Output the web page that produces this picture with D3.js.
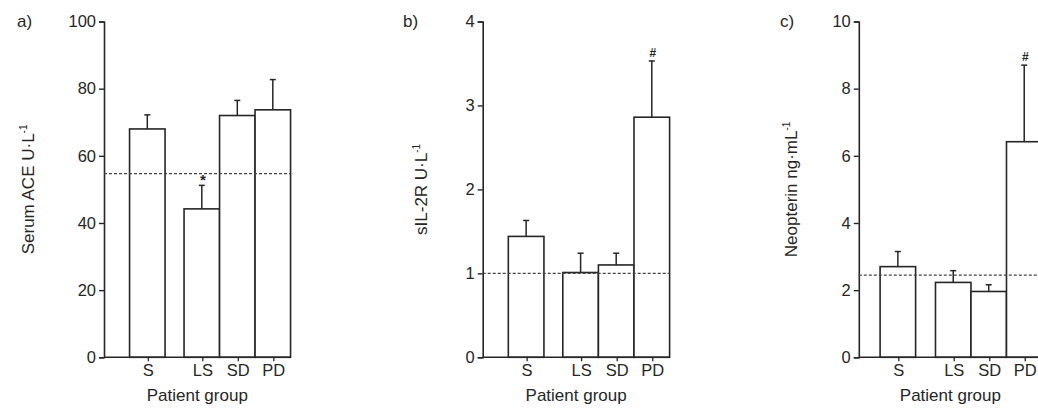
<!DOCTYPE html>
<html>
<head>
<meta charset="utf-8">
<script src="https://cdn.jsdelivr.net/npm/d3@7"></script>
<style>
    body { margin: 0; background: #fff; }
    svg { display: block; }
</style>
</head>
<body>
<div id="chart"></div>
<script>
// groups on the x axis (same for every panel)
var groups = ["S", "LS", "SD", "PD"];

// a) Serum ACE
var aceMeans = [68, 44.2, 72, 73.7];
var aceErrors = [4.2, 7.0, 4.5, 9.0];
var aceNormal = 54.7;
var aceTicks = [0, 20, 40, 60, 80, 100];
var aceMarks = ["", "*", "", ""];

// b) sIL-2R
var il2rMeans = [1.44, 1.01, 1.10, 2.86];
var il2rErrors = [0.19, 0.23, 0.14, 0.67];
var il2rNormal = 1.0;
var il2rTicks = [0, 1, 2, 3, 4];
var il2rMarks = ["", "", "", "#"];

// c) Neopterin
var neoMeans = [2.70, 2.23, 1.96, 6.42];
var neoErrors = [0.45, 0.35, 0.20, 2.28];
var neoNormal = 2.45;
var neoTicks = [0, 2, 4, 6, 8, 10];
var neoMarks = ["", "", "", "#"];

var width = 1038;
var height = 409;
var ink = "#262626";
var font = "'Liberation Sans', Arial, Helvetica, sans-serif";

var svg = d3.select("#chart").append("svg")
    .attr("width", width)
    .attr("height", height);

var panels = [
    { tag: "a)", title: "Serum ACE U\u00b7L", sup: "-1", means: aceMeans, errors: aceErrors,
      normal: aceNormal, ticks: aceTicks, marks: aceMarks,
      axisX: 104, bw: 35.5, lead: 0.72, gap: 0.535, tagX: 17, titleX: 34 },
    { tag: "b)", title: "sIL-2R U\u00b7L", sup: "-1", means: il2rMeans, errors: il2rErrors,
      normal: il2rNormal, ticks: il2rTicks, marks: il2rMarks,
      axisX: 482.7, bw: 35.6, lead: 0.72, gap: 0.53, tagX: 403, titleX: 427 },
    { tag: "c)", title: "Neopterin ng\u00b7mL", sup: "-1", means: neoMeans, errors: neoErrors,
      normal: neoNormal, ticks: neoTicks, marks: neoMarks,
      axisX: 858.8, bw: 35.5, lead: 0.6, gap: 0.56, tagX: 780, titleX: 797 }
];

var yTop = 21.5;
var yZero = 357.3;

panels.forEach(function (p) {
    var g = svg.append("g");
    var units = p.lead + p.gap + groups.length;

    var x = d3.scaleLinear()
        .domain([0, units])
        .range([p.axisX, p.axisX + units * p.bw]);

    var y = d3.scaleLinear()
        .domain([0, d3.max(p.ticks)])
        .range([yZero, yTop]);

    var slot = function (i) {
        return p.lead + i + (i >= 1 ? p.gap : 0);
    };

    // y axis
    var yAxis = g.append("g")
        .attr("transform", "translate(" + p.axisX + ",0)")
        .call(d3.axisLeft(y).tickValues(p.ticks).tickSize(5).tickPadding(3).tickFormat(d3.format("d")));
    yAxis.select(".domain").attr("stroke", ink).attr("stroke-width", 1.6);
    yAxis.selectAll(".tick line").attr("stroke", ink).attr("stroke-width", 1.4);
    yAxis.selectAll(".tick text")
        .attr("font-family", font)
        .attr("font-size", "16.5px")
        .attr("fill", ink);

    // bars
    g.selectAll(".bar")
        .data(p.means)
        .enter()
        .append("rect")
        .attr("x", function (d, i) { return x(slot(i)); })
        .attr("y", function (d) { return y(d); })
        .attr("width", x(1) - x(0))
        .attr("height", function (d) { return y(0) - y(d); })
        .attr("fill", "#fff")
        .attr("stroke", ink)
        .attr("stroke-width", 1.6);

    // error bars
    var cx = function (i) { return x(slot(i) + 0.5); };
    g.selectAll(".err")
        .data(p.means)
        .enter()
        .append("line")
        .attr("x1", function (d, i) { return cx(i); })
        .attr("x2", function (d, i) { return cx(i); })
        .attr("y1", function (d) { return y(d); })
        .attr("y2", function (d, i) { return y(d + p.errors[i]); })
        .attr("stroke", ink)
        .attr("stroke-width", 1.5);
    g.selectAll(".cap")
        .data(p.means)
        .enter()
        .append("line")
        .attr("x1", function (d, i) { return cx(i) - 3; })
        .attr("x2", function (d, i) { return cx(i) + 3; })
        .attr("y1", function (d, i) { return y(d + p.errors[i]); })
        .attr("y2", function (d, i) { return y(d + p.errors[i]); })
        .attr("stroke", ink)
        .attr("stroke-width", 1.5);

    // significance marks
    g.selectAll(".mark")
        .data(p.marks)
        .enter()
        .append("text")
        .attr("x", function (d, i) { return cx(i) + 1; })
        .attr("y", function (d, i) { return y(p.means[i] + p.errors[i]) - (d === "*" ? 0 : 4); })
        .attr("text-anchor", "middle")
        .attr("font-family", font)
        .attr("font-size", function (d) { return d === "*" ? "15px" : "12px"; })
        .attr("font-weight", "bold")
        .attr("fill", ink)
        .text(function (d) { return d; });

    // normal level, dashed
    g.append("line")
        .attr("x1", x(0))
        .attr("x2", x(units))
        .attr("y1", y(p.normal))
        .attr("y2", y(p.normal))
        .attr("stroke", "#444")
        .attr("stroke-width", 1.3)
        .attr("stroke-dasharray", "3,2");

    // x axis
    g.append("line")
        .attr("x1", x(0))
        .attr("x2", x(units))
        .attr("y1", y(0))
        .attr("y2", y(0))
        .attr("stroke", ink)
        .attr("stroke-width", 1.6);
    g.selectAll(".xtick")
        .data(groups)
        .enter()
        .append("line")
        .attr("x1", function (d, i) { return cx(i) + 1; })
        .attr("x2", function (d, i) { return cx(i) + 1; })
        .attr("y1", y(0))
        .attr("y2", y(0) + 4)
        .attr("stroke", ink)
        .attr("stroke-width", 1.3);
    g.selectAll(".xlabel")
        .data(groups)
        .enter()
        .append("text")
        .attr("x", function (d, i) { return cx(i) + 1; })
        .attr("y", yZero + 19)
        .attr("text-anchor", "middle")
        .attr("font-family", font)
        .attr("font-size", "16.5px")
        .attr("fill", ink)
        .text(function (d) { return d; });

    g.append("text")
        .attr("x", (x(0) + x(units)) / 2)
        .attr("y", yZero + 44)
        .attr("text-anchor", "middle")
        .attr("font-family", font)
        .attr("font-size", "17px")
        .attr("fill", ink)
        .text("Patient group");

    // y title
    var t = g.append("text")
        .attr("transform", "translate(" + p.titleX + "," + ((yTop + yZero) / 2) + ") rotate(-90)")
        .attr("text-anchor", "middle")
        .attr("font-family", font)
        .attr("font-size", "17px")
        .attr("fill", ink);
    t.append("tspan").text(p.title);
    t.append("tspan")
        .attr("font-size", "10px")
        .attr("dy", "-7")
        .text(p.sup);

    // panel tag
    g.append("text")
        .attr("x", p.tagX)
        .attr("y", 27)
        .attr("font-family", font)
        .attr("font-size", "17px")
        .attr("fill", ink)
        .text(p.tag);
});
</script>
</body>
</html>
